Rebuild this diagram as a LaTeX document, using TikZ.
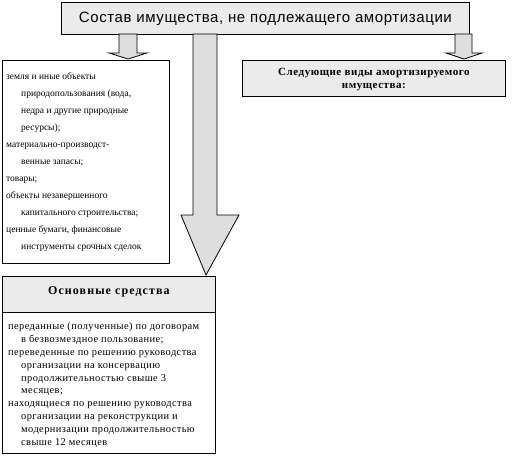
\documentclass[tikz,border=0pt]{standalone}
\usepackage{fontspec}
\setmainfont{Liberation Serif}
\newfontfamily\titlefont[LetterSpace=4]{Liberation Sans}
\newfontfamily\boldspaced[LetterSpace=5]{Liberation Serif}
\newfontfamily\headspaced[LetterSpace=9]{Liberation Serif}
\newfontfamily\listspaced[LetterSpace=4]{Liberation Serif}
\begin{document}
\begin{tikzpicture}[x=1pt,y=-1pt]
\tikzset{
  boxstyle/.style={draw=black, line width=0.8pt, anchor=north west, inner sep=0pt},
  graybox/.style={boxstyle, fill=black!8},
  whitebox/.style={boxstyle, fill=white},
  blockarrow/.style={draw=black, line width=0.8pt, fill=black!13, line join=miter},
  listtext/.style={anchor=north west, inner sep=0pt, align=left, font=\fontsize{9.5}{17}\selectfont},
  listtextb/.style={anchor=north west, inner sep=0pt, align=left, font=\listspaced\fontsize{10.4}{12.9}\selectfont},
  boldtext/.style={inner sep=0pt, align=center, font=\boldspaced\fontsize{11}{13}\selectfont\bfseries},
  headtext/.style={inner sep=0pt, align=center, font=\headspaced\fontsize{12}{14}\selectfont\bfseries}
}
\useasboundingbox (0,0) rectangle (518,458);
% top box
\node[graybox, minimum width=408pt, minimum height=32pt] (top) at (61,2) {};
\node[font=\titlefont\fontsize{15}{17}\selectfont, inner sep=0pt] (toptext) at (top.center) {Состав имущества, не подлежащего амортизации};
% right box
\node[graybox, minimum width=263pt, minimum height=36pt] (right) at (242,60) {};
\node[boldtext] (righttext) at ([yshift=-1.5pt]right.center) {Следующие виды амортизируемого\\имущества:};
% left box
\node[whitebox, minimum width=167pt, minimum height=203pt] (left) at (2,60) {};
\node[listtext] (lefttext) at (6,72) {%
земля и иные объекты\\\hspace*{15pt}природопользования (вода,\\\hspace*{15pt}недра и другие природные\\\hspace*{15pt}ресурсы);\\
материально-производст-\\\hspace*{15pt}венные запасы;\\
товары;\\
объекты незавершенного\\\hspace*{15pt}капитального строительства;\\
ценные бумаги, финансовые\\\hspace*{15pt}инструменты срочных сделок};
% bottom box
\node[whitebox, minimum width=213pt, minimum height=177pt] (bottom) at (2,276) {};
\node[graybox, minimum width=213pt, minimum height=36pt] (bottomhead) at (2,276) {};
\node[headtext] (bottomheadtext) at ([yshift=3pt]bottomhead.center) {Основные средства};
\node[listtextb] (bottomtext) at (8,322) {%
переданные (полученные) по договорам\\\hspace*{13pt}в безвозмездное пользование;\\
переведенные по решению руководства\\\hspace*{13pt}организации на консервацию\\\hspace*{13pt}продолжительностью свыше 3\\\hspace*{13pt}месяцев;\\
находящиеся по решению руководства\\\hspace*{13pt}организации на реконструкции и\\\hspace*{13pt}модернизации продолжительностью\\\hspace*{13pt}свыше 12 месяцев};
% block arrows
\draw[blockarrow] (119,34) -- (137,34) -- (137,53) -- (147,53) -- (128,59) -- (109,53) -- (119,53) -- cycle;
\draw[blockarrow] (193,34) -- (217,34) -- (217,215) -- (239,215) -- (206,275) -- (181,215) -- (193,215) -- cycle;
\draw[blockarrow] (455,34) -- (472,34) -- (472,53) -- (482,53) -- (464,59) -- (446,53) -- (455,53) -- cycle;
\end{tikzpicture}
\end{document}
